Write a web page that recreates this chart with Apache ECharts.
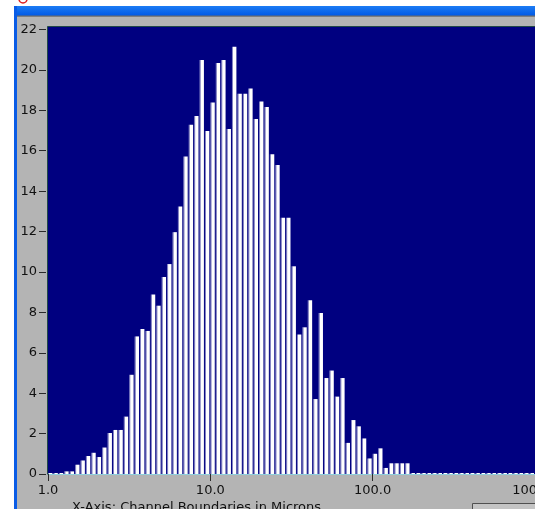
<!DOCTYPE html>
<html>
<head>
<meta charset="utf-8">
<script src="https://cdn.jsdelivr.net/npm/echarts@6/dist/echarts.min.js"></script>
<style>
  html, body { margin: 0; padding: 0; background: #ffffff; overflow: hidden; }
  #chart { width: 535px; height: 509px; }
</style>
</head>
<body>
<div id="chart"></div>
<script>
// Channel boundaries in microns (30 channels per decade, 1 to 1000)
const channelEdges = [
  1.000, 1.080, 1.166, 1.259, 1.359, 1.468, 1.585, 1.711, 1.848, 1.995,
  2.154, 2.326, 2.512, 2.712, 2.929, 3.162, 3.415, 3.687, 3.981, 4.299,
  4.642, 5.012, 5.412, 5.843, 6.310, 6.813, 7.356, 7.943, 8.577, 9.261,
  10.00, 10.80, 11.66, 12.59, 13.59, 14.68, 15.85, 17.11, 18.48, 19.95,
  21.54, 23.26, 25.12, 27.12, 29.29, 31.62, 34.15, 36.87, 39.81, 42.99,
  46.42, 50.12, 54.12, 58.43, 63.10, 68.13, 73.56, 79.43, 85.77, 92.61,
  100.0, 108.0, 116.6, 125.9, 135.9, 146.8, 158.5, 171.1, 184.8, 199.5,
  215.4, 232.6, 251.2, 271.2, 292.9, 316.2, 341.5, 368.7, 398.1, 429.9,
  464.2, 501.2, 541.2, 584.3, 631.0, 681.3, 735.6, 794.3, 857.7, 926.1, 1000
];

// Histogram counts per channel
const channelCounts = [
  0.05, 0.05, 0.05, 0.13, 0.13, 0.46, 0.67, 0.89, 1.05, 0.84,
  1.31, 2.03, 2.18, 2.18, 2.84, 4.91, 6.81, 7.18, 7.08, 8.88,
  8.33, 9.75, 10.39, 11.97, 13.24, 15.71, 17.29, 17.72, 20.49, 16.98,
  18.39, 20.34, 20.49, 17.08, 21.15, 18.82, 18.82, 19.08, 17.57, 18.44,
  18.16, 15.83, 15.29, 12.68, 12.68, 10.28, 6.91, 7.26, 8.60, 3.71,
  7.97, 4.75, 5.12, 3.83, 4.75, 1.54, 2.67, 2.36, 1.76, 0.77,
  1.00, 1.27, 0.30, 0.53, 0.53, 0.53, 0.53, 0.05, 0.05, 0.05,
  0.05, 0.05, 0.05, 0.05, 0.05, 0.05, 0.05, 0.05, 0.05, 0.05,
  0.05, 0.05, 0.05, 0.05, 0.05, 0.05, 0.05, 0.05, 0.05, 0.05
];

const yTicks = [0, 2, 4, 6, 8, 10, 12, 14, 16, 18, 20, 22];
const xTickValues = [1, 10, 100, 1000];
const xAxisTitle = 'X-Axis: Channel Boundaries in Microns';

const histData = channelCounts.map((v, i) => [channelEdges[i], channelEdges[i + 1], v]);

const chart = echarts.init(document.getElementById('chart'), null, { renderer: 'canvas' });

const FONT = '"DejaVu Sans", Verdana, sans-serif';

chart.setOption({
  backgroundColor: '#ffffff',
  animation: false,
  grid: { left: 48, right: 0, top: 29.5, bottom: 35, show: false, containLabel: false, outerBoundsMode: 'none' },
  graphic: [
    // window blue top bar
    { type: 'rect', z: -10, silent: true, shape: { x: 14, y: 6, width: 521, height: 10 },
      style: { fill: new echarts.graphic.LinearGradient(0, 0, 0, 1, [
        { offset: 0, color: '#1c7cf4' }, { offset: 1, color: '#0058e4' }]) } },
    // window blue left border
    { type: 'rect', z: -10, silent: true, shape: { x: 14, y: 6, width: 3, height: 503 },
      style: { fill: '#0a5ce6' } },
    // grey panel
    { type: 'rect', z: -9, silent: true, shape: { x: 17, y: 16, width: 518, height: 493 },
      style: { fill: '#b4b4b4' } },
    { type: 'rect', z: -9, silent: true, shape: { x: 17, y: 15.5, width: 518, height: 1.2 },
      style: { fill: '#6c6c6c' } },
    // plot area
    { type: 'rect', z: -8, silent: true, shape: { x: 47.5, y: 26.5, width: 489, height: 448 },
      style: { fill: '#000080', stroke: '#204848', lineWidth: 1 } },
    // small red icon at top-left
    { type: 'circle', z: -7, silent: true, shape: { cx: 23, cy: -1, r: 4 },
      style: { fill: 'none', stroke: '#e02020', lineWidth: 1.5 } },
    // bottom-right button
    { type: 'rect', z: -7, silent: true, shape: { x: 472.5, y: 503.5, width: 70, height: 10 },
      style: { fill: '#c4c4c4', stroke: '#505050', lineWidth: 1 } },
    // x axis title
    { type: 'text', z: 10, silent: true, x: 72, y: 501,
      style: { text: xAxisTitle, font: '13px ' + FONT, fill: '#111111', verticalAlign: 'top', align: 'left' } }
  ],
  xAxis: {
    type: 'log',
    logBase: 10,
    min: xTickValues[0],
    max: xTickValues[xTickValues.length - 1],
    axisLine: { show: true, lineStyle: { color: '#8fd0dc', width: 1 } },
    axisTick: { show: true, length: 7, lineStyle: { color: '#2a2a2a', width: 1 } },
    axisLabel: {
      show: true, margin: 10, color: '#111111', fontFamily: FONT, fontSize: 13,
      hideOverlap: false,
      formatter: v => Number(v).toFixed(1)
    },
    splitLine: { show: false },
    minorTick: { show: false }
  },
  yAxis: {
    type: 'value',
    min: yTicks[0],
    max: yTicks[yTicks.length - 1],
    interval: 2,
    offset: 2,
    axisLine: { show: false },
    axisTick: { show: true, length: 7, lineStyle: { color: '#2a2a2a', width: 1 } },
    axisLabel: { show: true, margin: 9, color: '#111111', fontFamily: FONT, fontSize: 13 },
    splitLine: { show: false }
  },
  series: [{
    type: 'custom',
    data: histData,
    encode: { x: [0, 1], y: 2 },
    clip: false,
    renderItem: function (params, api) {
      const lo = api.value(0), hi = api.value(1), v = api.value(2);
      const top = api.coord([lo, v]);
      const base = api.coord([hi, 0]);
      const x0 = top[0], x1 = base[0];
      const yTop = top[1], yBase = base[1];
      const h = yBase - yTop;
      return {
        type: 'group',
        children: [
          { type: 'rect', shape: { x: x0, y: yTop, width: 1, height: h },
            style: { fill: '#8484c4' } },
          { type: 'rect', shape: { x: x0 + 1, y: yTop, width: Math.max(0.5, x1 - x0 - 2), height: h },
            style: { fill: '#ffffff' } }
        ]
      };
    }
  }]
});
</script>
</body>
</html>
